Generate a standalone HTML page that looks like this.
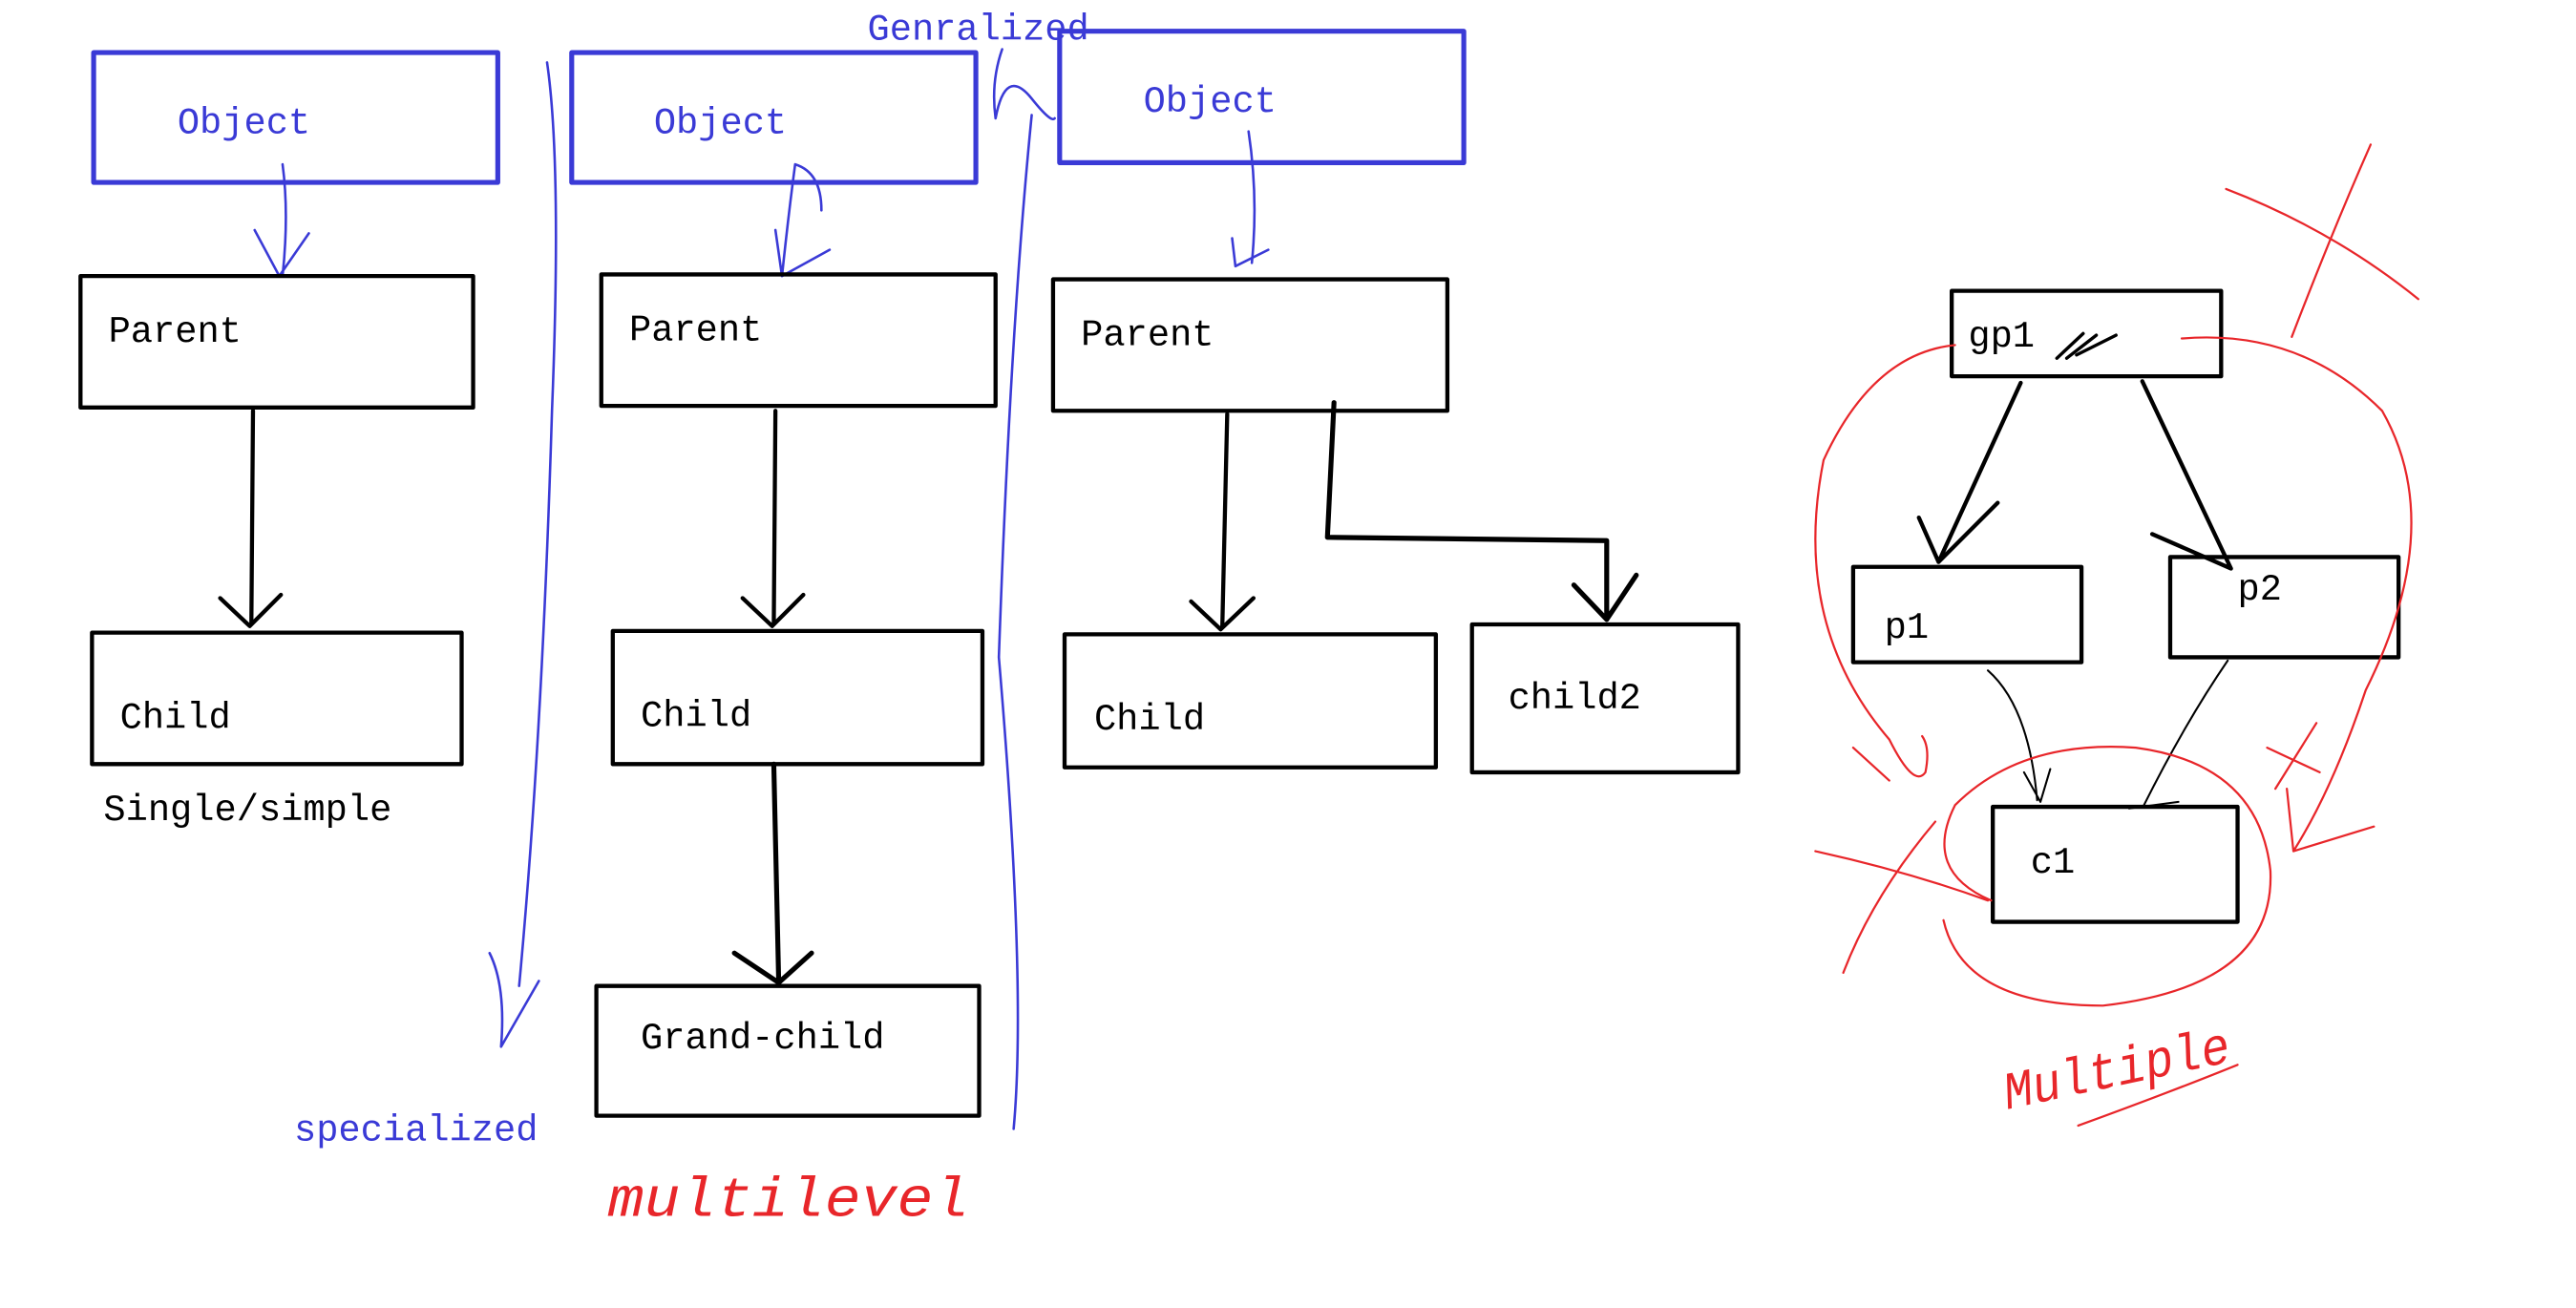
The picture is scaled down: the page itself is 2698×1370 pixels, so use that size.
<!DOCTYPE html>
<html><head><meta charset="utf-8">
<style>
html,body{margin:0;padding:0;background:#fff;}
svg{display:block;}
text{font-family:"Liberation Mono","DejaVu Sans Mono",monospace;font-size:22.5px;}
</style></head>
<body>
<svg width="2698" height="1370" viewBox="0 0 1568 796" preserveAspectRatio="none" xmlns="http://www.w3.org/2000/svg">
<g fill="none" stroke-linecap="round" stroke-linejoin="round">
<rect x="57" y="32" width="246" height="79" stroke="#3a3ad6" stroke-width="3"/>
<path d="M172 100 Q176 130 172 168 M155 140 L170 168 L188 142" stroke="#3a3ad6" stroke-width="1.5"/>
<rect x="49" y="168" width="239" height="80" stroke="#000" stroke-width="2.5"/>
<path d="M154 250 L153 380 M134 364 L152 381 L171 362" stroke="#000" stroke-width="2.5"/>
<rect x="56" y="385" width="225" height="80" stroke="#000" stroke-width="2.5"/>
<path d="M333 38 Q342 100 336 250 Q330 450 316 600" stroke="#3a3ad6" stroke-width="1.5"/>
<path d="M298 580 Q308 600 305 637 L328 597" stroke="#3a3ad6" stroke-width="1.5"/>
<rect x="348" y="32" width="246" height="79" stroke="#3a3ad6" stroke-width="3"/>
<path d="M476 168 Q480 130 484 100 Q500 105 500 128 M472 140 L476 168 L505 152" stroke="#3a3ad6" stroke-width="1.5"/>
<rect x="366" y="167" width="240" height="80" stroke="#000" stroke-width="2.5"/>
<path d="M472 250 L471 380 M452 364 L470 381 L489 362" stroke="#000" stroke-width="2.5"/>
<rect x="373" y="384" width="225" height="81" stroke="#000" stroke-width="2.5"/>
<path d="M471 465 L474 598 M447 580 L474 598 L494 580" stroke="#000" stroke-width="3"/>
<rect x="363" y="600" width="233" height="79" stroke="#000" stroke-width="2.5"/>
<path d="M610 30 Q603 50 606 72 Q612 40 628 60 Q640 75 642 72 M628 70 Q615 200 608 400 Q625 600 617 687" stroke="#3a3ad6" stroke-width="1.5"/>
<rect x="645" y="19" width="246" height="80" stroke="#3a3ad6" stroke-width="3"/>
<path d="M760 80 Q766 120 762 160 M750 145 L752 162 L772 152" stroke="#3a3ad6" stroke-width="1.5"/>
<rect x="641" y="170" width="240" height="80" stroke="#000" stroke-width="2.5"/>
<path d="M747 252 L744 382 M725 366 L743 383 L763 364" stroke="#000" stroke-width="2.5"/>
<rect x="648" y="386" width="226" height="81" stroke="#000" stroke-width="2.5"/>
<path d="M812 245 L808 327 L978 329 L978 377 M958 356 L978 377 L996 350" stroke="#000" stroke-width="3"/>
<rect x="896" y="380" width="162" height="90" stroke="#000" stroke-width="2.5"/>
<rect x="1188" y="177" width="164" height="52" stroke="#000" stroke-width="2.5"/>
<path d="M1252 218 L1268 203 M1258 218 L1276 204 M1264 216 L1288 204" stroke="#000" stroke-width="2"/>
<path d="M1230 233 L1180 342 M1168 315 L1180 342 L1216 306" stroke="#000" stroke-width="2.5"/>
<path d="M1304 232 L1358 346 M1310 325 L1358 346" stroke="#000" stroke-width="2.5"/>
<rect x="1128" y="345" width="139" height="58" stroke="#000" stroke-width="2.5"/>
<rect x="1321" y="339" width="139" height="61" stroke="#000" stroke-width="2.5"/>
<rect x="1213" y="491" width="149" height="70" stroke="#000" stroke-width="2.5"/>
<path d="M1210 408 Q1235 430 1240 487 M1232 470 L1242 488 L1248 468" stroke="#000" stroke-width="1.2"/>
<path d="M1356 402 Q1330 440 1305 490 M1296 492 L1326 488" stroke="#000" stroke-width="1.2"/>
<g stroke="#e8262a" stroke-width="1.3">
<path d="M1212 548 Q1170 530 1190 490 Q1230 450 1300 455 Q1375 465 1382 530 Q1385 600 1280 612 Q1195 612 1183 560"/>
<path d="M1190 210 Q1140 215 1110 280 Q1090 380 1150 450 Q1165 480 1172 470 Q1175 455 1170 448 M1128 455 L1150 475"/>
<path d="M1328 206 Q1400 200 1450 250 Q1490 320 1440 420 Q1420 480 1396 518 M1392 480 L1396 518 L1445 503"/>
<path d="M1355 115 Q1420 140 1472 182 M1443 88 Q1420 140 1395 205"/>
<path d="M1105 518 Q1160 530 1210 548 M1178 500 Q1140 545 1122 592"/>
<path d="M1380 455 L1412 470 M1410 440 L1385 480"/>
<path d="M1265 685 Q1320 665 1362 648"/>
</g>
</g>
<g fill="#000">
<text x="66" y="208">Parent</text>
<text x="73" y="443">Child</text>
<text x="63" y="499">Single/simple</text>
<text x="383" y="207">Parent</text>
<text x="390" y="442">Child</text>
<text x="390" y="638">Grand-child</text>
<text x="658" y="210">Parent</text>
<text x="666" y="444">Child</text>
<text x="918" y="431">child2</text>
<text x="1198" y="211">gp1</text>
<text x="1147" y="388">p1</text>
<text x="1362" y="365">p2</text>
<text x="1236" y="531">c1</text>
</g>
<g fill="#3a3ad6">
<text x="108" y="81">Object</text>
<text x="398" y="81">Object</text>
<text x="696" y="68">Object</text>
<text x="528" y="24">Genralized</text>
<text x="179" y="694">specialized</text>
</g>
<g fill="#e8262a" style="font-family:'DejaVu Sans',cursive,sans-serif;font-style:italic">
<text x="370" y="740" style="font-size:34px" textLength="220" lengthAdjust="spacingAndGlyphs">multilevel</text>
<text x="1222" y="675" style="font-size:32px" textLength="140" lengthAdjust="spacingAndGlyphs" transform="rotate(-12 1222 675)">Multiple</text>
</g>
</svg>
</body></html>
